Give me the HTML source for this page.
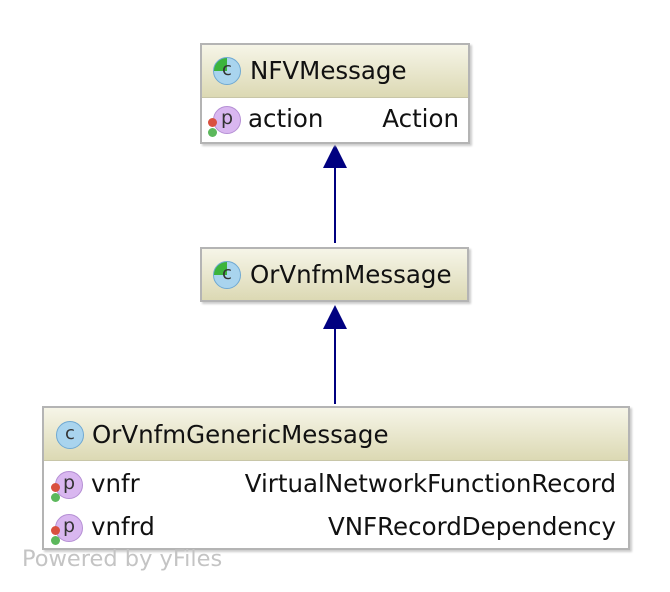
<!DOCTYPE html>
<html><head><meta charset="utf-8"><style>
body{margin:0;width:670px;height:592px;background:#fff;position:relative;overflow:hidden;font-family:"DejaVu Sans","Liberation Sans",sans-serif;color:#111}
.box{position:absolute;border:2px solid #b4b4b4;background:#fff;box-shadow:2px 2px 2px #ccc;box-sizing:border-box}
.hd{background:linear-gradient(#f6f5e8,#dcd9b4);height:52px;border-bottom:1px solid #c8c6a8;position:relative}
.t{position:absolute;font-size:24.5px;white-space:nowrap;line-height:28px}
.ci{position:absolute;width:28px;height:28px;border-radius:50%;background:#a9d4ee;border:1.5px solid #6fa9d3;box-sizing:border-box;font-size:18px;text-align:center;line-height:24px;color:#333}
.cg{background:conic-gradient(from 270deg,#3cb43c 0 25%,#a9d4ee 25% 100%)}
.pi{position:absolute;width:28px;height:28px;border-radius:50%;background:#d9b7f0;border:1.5px solid #b58fd4;box-sizing:border-box;font-size:19px;text-align:center;line-height:22px;color:#333}
.dr{position:absolute;width:9px;height:9px;border-radius:50%;background:#d9503f}
.dg{position:absolute;width:9px;height:9px;border-radius:50%;background:#5cb85c}
</style></head><body>
<svg style="position:absolute;left:0;top:0" width="670" height="592">
<line x1="335" y1="165" x2="335" y2="243" stroke="#000080" stroke-width="2"/>
<polygon points="335,144 323,168 347,168" fill="#000080"/>
<line x1="335" y1="326" x2="335" y2="404" stroke="#000080" stroke-width="2"/>
<polygon points="335,305 323,329 347,329" fill="#000080"/>
</svg>

<div class="box" style="left:200px;top:43px;width:270px;height:101px">
 <div class="hd"><div class="ci cg" style="left:11px;top:12px">c</div><div class="t" style="left:48px;top:12px">NFVMessage</div></div>
 <div class="pi" style="left:11px;top:61px">p</div><div class="dr" style="left:6px;top:73px"></div><div class="dg" style="left:6px;top:83px"></div>
 <div class="t" style="left:46px;top:60px">action</div><div class="t" style="right:9px;top:60px">Action</div>
</div>

<div class="box" style="left:200px;top:247px;width:269px;height:55px">
 <div class="hd" style="height:51px;border:none"><div class="ci cg" style="left:11px;top:12px">c</div><div class="t" style="left:48px;top:12px">OrVnfmMessage</div></div>
</div>

<div class="box" style="left:42px;top:406px;width:588px;height:144px">
 <div class="hd"><div class="ci" style="left:12px;top:13px">c</div><div class="t" style="left:48px;top:13px">OrVnfmGenericMessage</div></div>
 <div class="pi" style="left:11px;top:63px">p</div><div class="dr" style="left:7px;top:75px"></div><div class="dg" style="left:7px;top:85px"></div>
 <div class="t" style="left:47px;top:62px">vnfr</div><div class="t" style="right:12px;top:62px">VirtualNetworkFunctionRecord</div>
 <div class="pi" style="left:11px;top:106px">p</div><div class="dr" style="left:7px;top:118px"></div><div class="dg" style="left:7px;top:128px"></div>
 <div class="t" style="left:47px;top:105px">vnfrd</div><div class="t" style="right:12px;top:105px">VNFRecordDependency</div>
</div>

<div class="t" style="left:22px;top:545px;font-size:22.5px;color:#c4c4c4">Powered by yFiles</div>
</body></html>
